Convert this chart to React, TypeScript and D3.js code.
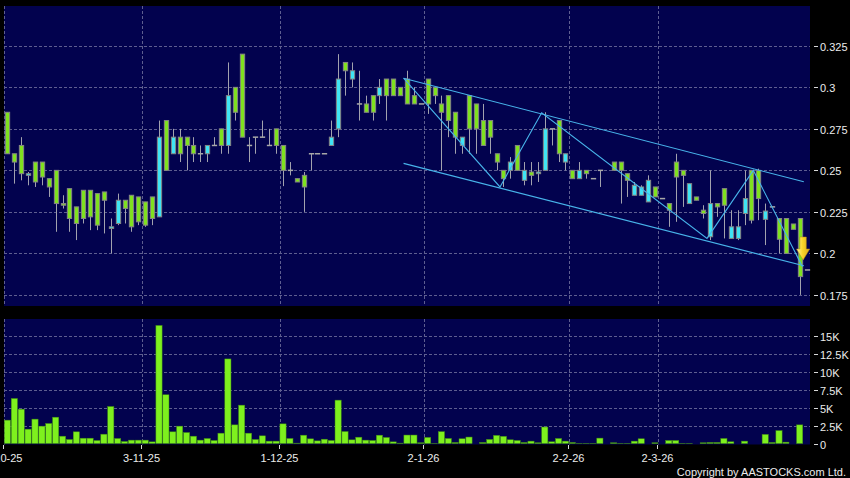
import React, { useRef, useEffect } from 'react';
import * as d3 from 'd3';

// daily OHLC, one slot per trading day (null = no trade)
const opens: (number | null)[] = [
  0.285, 0.26, 0.265, 0.247, 0.255, 0.255, 0.245, 0.25, 0.23, 0.239,
  0.228, 0.238, 0.238, 0.236, 0.237, 0.215, 0.218, 0.232, 0.235, 0.234,
  0.231, 0.234, 0.222, 0.28, 0.26, 0.27, 0.27, 0.265, 0.26, 0.26,
  0.265, 0.275, 0.265, 0.3, 0.32, 0.265, 0.27, 0.27, 0.265, 0.275,
  0.265, 0.25, 0.245, 0.247, 0.26, 0.26, 0.26, 0.265, 0.275, 0.315,
  0.305, 0.29, 0.29, 0.295, 0.295, 0.305, 0.305, 0.3, 0.305, 0.295,
  0.29, 0.305, 0.3, 0.29, 0.295, 0.285, 0.265, 0.295, 0.29, 0.28,
  0.28, 0.26, 0.25, 0.25, 0.265, 0.244, 0.249, 0.248, 0.25, 0.275,
  0.28, 0.255, 0.25, 0.245, 0.25, 0.245, 0.25, null, 0.255, 0.255,
  0.248, 0.235, 0.235, 0.231, 0.24, 0.233, 0.23, 0.255, 0.25, 0.23,
  0.234, 0.226, 0.21, 0.23, 0.239, 0.209, 0.209, 0.224, 0.25, 0.25,
  0.2205, 0.228, 0.221, 0.221, 0.2177, 0.221, 0.19,
];
const highs: (number | null)[] = [
  0.285, 0.26, 0.27, 0.249, 0.255, 0.255, 0.245, 0.25, 0.235, 0.239,
  0.228, 0.238, 0.238, 0.236, 0.237, 0.221, 0.236, 0.232, 0.235, 0.234,
  0.231, 0.234, 0.28, 0.28, 0.275, 0.275, 0.27, 0.27, 0.265, 0.265,
  0.27, 0.275, 0.315, 0.3, 0.32, 0.27, 0.27, 0.28, 0.275, 0.275,
  0.265, 0.255, 0.245, 0.249, 0.26, 0.26, 0.26, 0.28, 0.32, 0.315,
  0.315, 0.31, 0.295, 0.295, 0.305, 0.305, 0.305, 0.3, 0.31, 0.3,
  0.29, 0.305, 0.3, 0.295, 0.295, 0.285, 0.27, 0.295, 0.29, 0.29,
  0.28, 0.26, 0.25, 0.258, 0.265, 0.255, 0.255, 0.255, 0.285, 0.275,
  0.28, 0.26, 0.25, 0.255, 0.25, 0.245, 0.25, null, 0.255, 0.255,
  0.248, 0.243, 0.241, 0.247, 0.24, 0.233, 0.23, 0.26, 0.25, 0.242,
  0.234, 0.229, 0.25, 0.23, 0.239, 0.226, 0.226, 0.25, 0.25, 0.251,
  0.23, 0.228, 0.221, 0.221, 0.2177, 0.221, 0.19,
];
const lows: (number | null)[] = [
  0.26, 0.242, 0.244, 0.241, 0.24, 0.241, 0.234, 0.213, 0.227, 0.213,
  0.208, 0.218, 0.214, 0.214, 0.212, 0.2, 0.217, 0.218, 0.213, 0.217,
  0.216, 0.217, 0.222, 0.25, 0.26, 0.255, 0.25, 0.255, 0.255, 0.255,
  0.265, 0.26, 0.26, 0.28, 0.27, 0.255, 0.26, 0.27, 0.265, 0.26,
  0.2405, 0.247, 0.243, 0.225, 0.25, 0.26, 0.26, 0.265, 0.27, 0.295,
  0.3, 0.28, 0.285, 0.28, 0.29, 0.28, 0.295, 0.295, 0.29, 0.29,
  0.29, 0.284, 0.29, 0.25, 0.27, 0.26, 0.26, 0.26, 0.26, 0.265,
  0.26, 0.25, 0.24, 0.245, 0.25, 0.241, 0.241, 0.243, 0.25, 0.265,
  0.255, 0.25, 0.245, 0.245, 0.245, 0.245, 0.24, null, 0.25, 0.23,
  0.234, 0.235, 0.235, 0.231, 0.234, 0.233, 0.216, 0.219, 0.228, 0.23,
  0.232, 0.221, 0.208, 0.222, 0.209, 0.209, 0.208, 0.217, 0.218, 0.22,
  0.205, 0.228, 0.2, 0.2, 0.2145, 0.175, 0.19,
];
const closes: (number | null)[] = [
  0.26, 0.255, 0.248, 0.248, 0.243, 0.246, 0.24, 0.23, 0.229, 0.221,
  0.218, 0.221, 0.222, 0.217, 0.232, 0.216, 0.232, 0.227, 0.216, 0.219,
  0.217, 0.221, 0.27, 0.25, 0.27, 0.26, 0.265, 0.26, 0.26, 0.265,
  0.265, 0.265, 0.295, 0.285, 0.27, 0.265, 0.27, 0.27, 0.265, 0.265,
  0.25, 0.25, 0.243, 0.24, 0.26, 0.26, 0.26, 0.27, 0.305, 0.31,
  0.31, 0.29, 0.285, 0.285, 0.3, 0.295, 0.295, 0.295, 0.29, 0.29,
  0.29, 0.29, 0.295, 0.285, 0.28, 0.27, 0.27, 0.275, 0.275, 0.265,
  0.27, 0.255, 0.245, 0.255, 0.25, 0.25, 0.247, 0.249, 0.275, 0.275,
  0.26, 0.26, 0.245, 0.25, 0.248, 0.245, 0.25, null, 0.25, 0.25,
  0.244, 0.241, 0.24, 0.244, 0.234, 0.233, 0.226, 0.246, 0.247, 0.242,
  0.232, 0.224, 0.23, 0.228, 0.229, 0.216, 0.216, 0.233, 0.22, 0.233,
  0.2255, 0.228, 0.2085, 0.2, 0.2145, 0.186, 0.19,
];
// volume in thousands of shares
const volumes = [
  3.26, 6.28, 4.79, 2.0, 3.4, 2.42, 2.79, 3.67, 1.02, 0.56,
  1.63, 0.74, 0.74, 0.42, 1.3, 5.16, 0.7, 0.28, 0.47, 0.47,
  0.47, 0.23, 16.47, 6.8, 1.63, 2.42, 1.53, 1.02, 0.47, 0.7,
  0.42, 1.44, 11.8, 2.6, 5.35, 1.44, 0.56, 1.07, 0.33, 0.33,
  2.74, 0.7, 0.05, 1.16, 0.65, 0.37, 0.6, 0.42, 6.05, 1.67,
  0.51, 0.88, 0.47, 0.42, 1.16, 0.84, 0.23, 0.05, 1.18, 1.18,
  0.1, 0.85, 0.03, 1.65, 0.7, 0.14, 0.66, 0.9, 0, 0.14,
  0.57, 1.13, 1.0, 0.52, 0.42, 0.14, 0.33, 0.1, 2.3, 0.24,
  0.7, 0.33, 0.14, 0.03, 0.03, 0.03, 0.75, 0, 0.1, 0.03,
  0.03, 0.33, 0.66, 0, 0.1, 0, 0.42, 0.42, 0.03, 0.03,
  0, 0.1, 0.14, 0.14, 0.7, 0.24, 0, 0.33, 0, 0,
  1.27, 0.14, 1.8, 0.19, 0, 2.6, 0,
];

const priceTicks = [0.175, 0.2, 0.225, 0.25, 0.275, 0.3, 0.325];
const volumeTicks = [0, 2.5, 5, 7.5, 10, 12.5, 15];
const dateLabels = ['2-10-25', '3-11-25', '1-12-25', '2-1-26', '2-2-26', '2-3-26'];
const dateLabelSlots = [0, 20, 40, 61, 82, 95];

// hand-drawn annotations: [slot, price]
const channelUpper: [number, number][] = [[57.5, 0.3055], [115.6, 0.2431]];
const channelLower: [number, number][] = [[57.5, 0.2542], [115.6, 0.1925]];
const zigzag: [number, number][] = [
  [57.5, 0.3055], [71.5, 0.24], [77.55, 0.2847], [101.55, 0.209], [108.27, 0.25], [115.4, 0.192],
];
const arrowTip: [number, number] = [115.5, 0.196];

const FONT = '"Liberation Sans", Arial, sans-serif';
const PANEL = '#02024e';
const GRID = '#5e5e90';
const UP = '#3fe4f4';
const DOWN = '#7fe11f';

const App: React.FC = () => {
  const ref = useRef<SVGSVGElement | null>(null);

  useEffect(() => {
    if (!ref.current) return;
    document.body.style.margin = '0';
    const svg = d3.select(ref.current);
    svg.selectAll('*').remove();

    const left = 4;
    const right = 810;
    const price = { top: 6, bottom: 306 };
    const vol = { top: 319, bottom: 444.5 };

    const slots = d3.range(opens.length);
    const x = d3
      .scaleBand<number>()
      .domain(slots)
      .range([left, right])
      .paddingInner(0.2)
      .paddingOuter(0.1);
    const step = x.step();
    const slotStart = (i: number) => left + i * step;
    const cx = (i: number) => slotStart(i) + step / 2;

    const y = d3.scaleLinear().domain([0.1683, 0.349]).range([price.bottom, price.top]);
    const yv = d3.scaleLinear().domain([0, 17.37]).range([443.5, vol.top]);

    svg.append('rect').attr('width', 850).attr('height', 478).attr('fill', '#000');
    svg
      .append('rect')
      .attr('x', left)
      .attr('y', price.top)
      .attr('width', right - left)
      .attr('height', price.bottom - price.top)
      .attr('fill', PANEL);
    svg
      .append('rect')
      .attr('x', left)
      .attr('y', vol.top)
      .attr('width', right - left)
      .attr('height', vol.bottom - vol.top)
      .attr('fill', PANEL);

    // grid
    const grid = svg
      .append('g')
      .attr('stroke', GRID)
      .attr('stroke-width', 1)
      .attr('stroke-dasharray', '3,2');
    priceTicks.forEach((t) => {
      const yy = Math.round(y(t)) + 0.5;
      grid.append('line').attr('x1', left).attr('x2', right).attr('y1', yy).attr('y2', yy);
    });
    volumeTicks.slice(1).forEach((t) => {
      const yy = Math.round(yv(t)) + 0.5;
      grid.append('line').attr('x1', left).attr('x2', right).attr('y1', yy).attr('y2', yy);
    });
    dateLabelSlots.forEach((s) => {
      const xx = Math.round(slotStart(s)) + 0.5;
      grid.append('line').attr('x1', xx).attr('x2', xx).attr('y1', price.top).attr('y2', price.bottom);
      grid.append('line').attr('x1', xx).attr('x2', xx).attr('y1', vol.top).attr('y2', vol.bottom);
    });

    // candles
    const bodyW = 4.3;
    const candles = svg.append('g');
    slots.forEach((i) => {
      const o = opens[i];
      const c = closes[i];
      const h = highs[i];
      const l = lows[i];
      if (o == null || c == null || h == null || l == null) return;
      const xc = Math.round(cx(i)) + 0.5;
      candles
        .append('line')
        .attr('x1', xc)
        .attr('x2', xc)
        .attr('y1', y(h))
        .attr('y2', y(l))
        .attr('stroke', '#a2a2ae')
        .attr('stroke-width', 1);
      const top = y(Math.max(o, c));
      const bot = y(Math.min(o, c));
      if (o === c) {
        candles
          .append('rect')
          .attr('x', xc - bodyW / 2 - 0.5)
          .attr('y', top - 0.75)
          .attr('width', bodyW + 1)
          .attr('height', 1.5)
          .attr('fill', '#a8a8a8');
      } else {
        candles
          .append('rect')
          .attr('x', xc - bodyW / 2)
          .attr('y', top)
          .attr('width', bodyW)
          .attr('height', Math.max(bot - top, 1))
          .attr('fill', c > o ? UP : DOWN)
          .attr('stroke', '#858585')
          .attr('stroke-width', 1);
      }
    });

    // volume bars
    const vw = 6.2;
    svg
      .append('g')
      .selectAll('rect')
      .data(slots.filter((i) => volumes[i] > 0))
      .join('rect')
      .attr('x', (i) => cx(i) - vw / 2)
      .attr('y', (i) => yv(volumes[i]))
      .attr('width', vw)
      .attr('height', (i) => yv(0) - yv(volumes[i]))
      .attr('fill', '#7ef01e')
      .attr('stroke', '#3f8a14')
      .attr('stroke-width', 0.5);

    // annotations
    const line = d3
      .line<[number, number]>()
      .x((d) => cx(d[0]))
      .y((d) => y(d[1]));
    [channelUpper, channelLower, zigzag].forEach((pts) => {
      svg
        .append('path')
        .datum(pts)
        .attr('d', line)
        .attr('fill', 'none')
        .attr('stroke', '#48b4ea')
        .attr('stroke-width', 1.1);
    });

    const ax = cx(arrowTip[0]);
    const ay = y(arrowTip[1]);
    const grad = svg
      .append('defs')
      .append('linearGradient')
      .attr('id', 'arrowFill')
      .attr('x1', '0')
      .attr('x2', '1')
      .attr('y1', '0')
      .attr('y2', '0');
    grad.append('stop').attr('offset', '0%').attr('stop-color', '#fff3a0');
    grad.append('stop').attr('offset', '45%').attr('stop-color', '#fad52c');
    grad.append('stop').attr('offset', '100%').attr('stop-color', '#dcaa16');
    svg
      .append('path')
      .attr(
        'd',
        `M${ax - 3.2},${ay - 23} L${ax + 3.2},${ay - 23} L${ax + 3.2},${ay - 11} L${ax + 6.6},${ay - 11} ` +
          `L${ax},${ay} L${ax - 6.6},${ay - 11} L${ax - 3.2},${ay - 11} Z`
      )
      .attr('fill', 'url(#arrowFill)')
      .attr('stroke', '#b88a10')
      .attr('stroke-width', 0.5);

    // right axes
    const axisText = svg
      .append('g')
      .attr('font-family', FONT)
      .attr('font-size', 11)
      .attr('fill', '#ececec');
    const tickMark = svg.append('g').attr('stroke', '#d8d8d8').attr('stroke-width', 1);
    priceTicks.forEach((t) => {
      const yy = Math.round(y(t)) + 0.5;
      tickMark.append('line').attr('x1', 814).attr('x2', 818).attr('y1', yy).attr('y2', yy);
      axisText
        .append('text')
        .attr('x', 820)
        .attr('y', yy + 4)
        .text(String(t));
    });
    volumeTicks.forEach((t) => {
      const yy = Math.round(yv(t)) + 0.5;
      tickMark.append('line').attr('x1', 814).attr('x2', 818).attr('y1', yy).attr('y2', yy);
      axisText
        .append('text')
        .attr('x', 820)
        .attr('y', yy + 4)
        .text(t === 0 ? '0' : `${t}K`);
    });

    // date axis
    dateLabelSlots.forEach((s, k) => {
      const xx = Math.round(slotStart(s)) - 0.5;
      tickMark.append('line').attr('x1', xx).attr('x2', xx).attr('y1', 445).attr('y2', 449);
      axisText
        .append('text')
        .attr('x', xx)
        .attr('y', 461.5)
        .attr('text-anchor', 'middle')
        .text(dateLabels[k]);
    });

    axisText
      .append('text')
      .attr('x', 846)
      .attr('y', 476)
      .attr('text-anchor', 'end')
      .attr('font-size', 11)
      .text('Copyright by AASTOCKS.com Ltd.');
  }, []);

  return (
    <svg
      ref={ref}
      width={850}
      height={478}
      style={{ display: 'block', position: 'absolute', left: 0, top: 0 }}
    />
  );
};

export default App;
